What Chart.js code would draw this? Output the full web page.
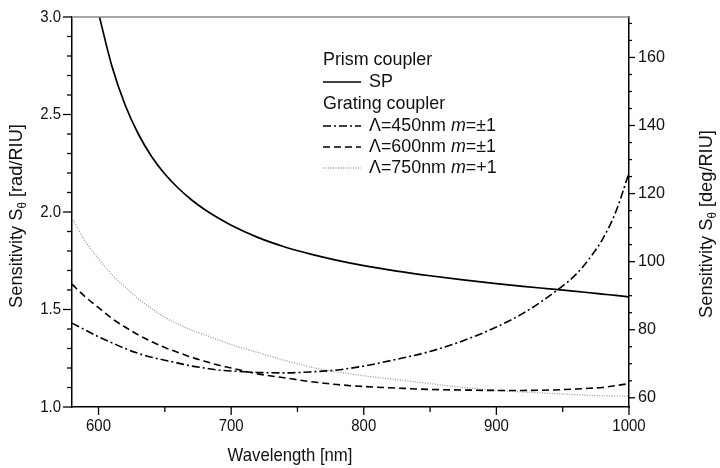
<!DOCTYPE html>
<html>
<head>
<meta charset="utf-8">
<script src="https://cdn.jsdelivr.net/npm/chart.js@4.4.0/dist/chart.umd.min.js"></script>
<style>
  html, body { margin: 0; padding: 0; background: #fff; }
</style>
</head>
<body>
<canvas id="myChart" width="720" height="468"></canvas>
<script>
// wavelength grid [nm]
const wavelength = [580, 590, 600, 610, 620, 630, 640, 650, 660, 670, 680, 690, 700, 720, 740, 760, 780, 800, 825, 850, 875, 900, 920, 940, 960, 970, 980, 990, 1000];

// sensitivity in rad/RIU
const prismSP = [null, null, 3.02, 2.75, 2.55, 2.40, 2.285, 2.195, 2.123, 2.063, 2.013, 1.970, 1.932, 1.87, 1.822, 1.784, 1.752, 1.725, 1.697, 1.673, 1.652, 1.633, 1.619, 1.606, 1.593, 1.586, 1.579, 1.572, 1.565];
const grating450 = [1.43, 1.395, 1.36, 1.33, 1.30, 1.275, 1.255, 1.24, 1.225, 1.21, 1.20, 1.19, 1.185, 1.177, 1.175, 1.18, 1.19, 1.21, 1.245, 1.285, 1.34, 1.41, 1.48, 1.57, 1.68, 1.76, 1.86, 2.00, 2.20];
const grating600 = [1.63, 1.565, 1.51, 1.455, 1.41, 1.37, 1.335, 1.305, 1.28, 1.255, 1.235, 1.215, 1.20, 1.17, 1.15, 1.13, 1.115, 1.105, 1.097, 1.09, 1.087, 1.085, 1.085, 1.087, 1.092, 1.096, 1.10, 1.11, 1.12];
const grating750 = [1.97, 1.85, 1.76, 1.68, 1.615, 1.555, 1.505, 1.46, 1.425, 1.395, 1.37, 1.345, 1.32, 1.28, 1.24, 1.205, 1.18, 1.16, 1.14, 1.12, 1.10, 1.085, 1.077, 1.07, 1.063, 1.06, 1.058, 1.056, 1.055];

// tick labels
const xTicks = [600, 700, 800, 900, 1000];
const radTicks = [1.0, 1.5, 2.0, 2.5, 3.0];
const degTicks = [60, 80, 100, 120, 140, 160];

const DEG = 180 / Math.PI;
const FONT = "'Liberation Sans', Arial, sans-serif";
const SQUEEZE = 0.88; // reference text is a bit condensed

function pts(ys) {
  return wavelength.map((w, i) => ({ x: w, y: ys[i] }));
}

function setTicks(list) {
  return function (scale) { scale.ticks = list.map(v => ({ value: v })); };
}

// draws text pieces one after another, squeezed along the writing direction
function drawRich(ctx, parts, x, y, align, k) {
  k = k || 1;
  let total = 0;
  parts.forEach(p => { ctx.font = p[1]; total += ctx.measureText(p[0]).width; });
  ctx.save();
  ctx.translate(x, y);
  ctx.scale(k, 1);
  let cx = align === 'center' ? -total / 2 : align === 'right' ? -total : 0;
  ctx.textAlign = 'left';
  parts.forEach(p => {
    ctx.font = p[1];
    ctx.fillText(p[0], cx, p[2] || 0);
    cx += ctx.measureText(p[0]).width;
  });
  ctx.restore();
}

const decor = {
  id: 'decor',
  afterDraw(chart) {
    const ctx = chart.ctx, a = chart.chartArea;
    const sx = chart.scales.x, sy = chart.scales.y, sy2 = chart.scales.y2;
    function seg(x1, y1, x2, y2) { ctx.beginPath(); ctx.moveTo(x1, y1); ctx.lineTo(x2, y2); ctx.stroke(); }
    ctx.save();
    // top frame line
    ctx.strokeStyle = '#8a8a8a';
    ctx.lineWidth = 1.5;
    seg(a.left, a.top, a.right, a.top);
    // tick marks
    ctx.strokeStyle = '#000';
    ctx.lineWidth = 1.3;
    for (let v = 600; v <= 1000; v += 50) {
      const px = sx.getPixelForValue(v);
      seg(px, a.bottom, px, a.bottom + (v % 100 === 0 ? 8 : 5));
    }
    for (let i = 10; i <= 30; i++) {
      const py = sy.getPixelForValue(i / 10);
      seg(a.left, py, a.left - (i % 5 === 0 ? 9 : 5), py);
    }
    for (let v = 60; v <= 170; v += 5) {
      const py = sy2.getPixelForValue(v);
      seg(a.right, py, a.right + (v % 20 === 0 ? 6 : 3), py);
    }
    // tick labels
    ctx.fillStyle = '#111';
    ctx.textBaseline = 'middle';
    const kf = '17px ' + FONT;
    xTicks.forEach(v => drawRich(ctx, [[String(v), kf]], sx.getPixelForValue(v), a.bottom + 19, 'center', SQUEEZE));
    radTicks.forEach(v => drawRich(ctx, [[v.toFixed(1), kf]], a.left - 11, sy.getPixelForValue(v), 'right', SQUEEZE));
    degTicks.forEach(v => drawRich(ctx, [[String(v), kf]], a.right + 9, sy2.getPixelForValue(v), 'left', 0.95));
    // axis titles
    const tf = '19px ' + FONT, sf = '12px ' + FONT;
    drawRich(ctx, [['Wavelength [nm]', tf]], 290, 456, 'center', SQUEEZE);
    ctx.save();
    ctx.translate(17, 216);
    ctx.rotate(-Math.PI / 2);
    drawRich(ctx, [['Sensitivity S', tf], ['\u03b8', sf, 6], [' [rad/RIU]', tf]], 0, 0, 'center', 0.96);
    ctx.restore();
    ctx.save();
    ctx.translate(707, 224);
    ctx.rotate(-Math.PI / 2);
    drawRich(ctx, [['Sensitivity S', tf], ['\u03b8', sf, 6], [' [deg/RIU]', tf]], 0, 0, 'center', 0.96);
    ctx.restore();
    // legend
    const lf = '19px ' + FONT, lfi = 'italic 19px ' + FONT;
    const lx = 323, tx = 369, lk = 0.94;
    drawRich(ctx, [['Prism coupler', lf]], lx, 60, 'left', lk);
    drawRich(ctx, [['SP', lf]], tx, 82, 'left', lk);
    drawRich(ctx, [['Grating coupler', lf]], lx, 104, 'left', lk);
    drawRich(ctx, [['\u039b=450nm ', lf], ['m', lfi], ['=\u00b11', lf]], tx, 126, 'left', lk);
    drawRich(ctx, [['\u039b=600nm ', lf], ['m', lfi], ['=\u00b11', lf]], tx, 147, 'left', lk);
    drawRich(ctx, [['\u039b=750nm ', lf], ['m', lfi], ['=+1', lf]], tx, 168, 'left', lk);
    const samples = [
      [82, [], '#000', 1.7],
      [126, [8, 3, 2, 3], '#000', 1.6],
      [147, [7, 4], '#000', 1.6],
      [168, [1, 1.5], '#9a9a9a', 1.3]
    ];
    samples.forEach(s => {
      ctx.strokeStyle = s[2];
      ctx.lineWidth = s[3];
      ctx.setLineDash(s[1]);
      seg(lx, s[0], lx + 38, s[0]);
    });
    ctx.restore();
  }
};

const CHART = document.getElementById('myChart');

let myChart = new Chart(CHART, {
  type: 'line',
  data: {
    datasets: [{
      label: 'SP',
      data: pts(prismSP),
      borderColor: '#000',
      borderWidth: 1.7,
      pointRadius: 0,
      cubicInterpolationMode: 'monotone',
      fill: false
    }, {
      label: '\u039b=450nm m=\u00b11',
      data: pts(grating450),
      borderColor: '#000',
      borderWidth: 1.6,
      borderDash: [8, 3, 2, 3],
      pointRadius: 0,
      cubicInterpolationMode: 'monotone',
      fill: false
    }, {
      label: '\u039b=600nm m=\u00b11',
      data: pts(grating600),
      borderColor: '#000',
      borderWidth: 1.6,
      borderDash: [7, 4],
      pointRadius: 0,
      cubicInterpolationMode: 'monotone',
      fill: false
    }, {
      label: '\u039b=750nm m=+1',
      data: pts(grating750),
      borderColor: '#9a9a9a',
      borderWidth: 1.3,
      borderDash: [1, 1.5],
      pointRadius: 0,
      cubicInterpolationMode: 'monotone',
      fill: false
    }]
  },
  options: {
    responsive: false,
    animation: false,
    layout: { padding: { top: 17, left: 0, right: 0, bottom: 0 } },
    plugins: { legend: { display: false }, tooltip: { enabled: false } },
    scales: {
      x: {
        type: 'linear',
        min: 580,
        max: 1000,
        afterBuildTicks: setTicks(xTicks),
        afterFit(scale) { scale.height = 61; },
        grid: { display: false },
        border: { display: true, color: '#000', width: 1.5 },
        ticks: { display: false }
      },
      y: {
        type: 'linear',
        position: 'left',
        min: 1.0,
        max: 3.0,
        afterBuildTicks: setTicks(radTicks),
        afterFit(scale) { scale.width = 72; },
        grid: { display: false },
        border: { display: true, color: '#000', width: 1.5 },
        ticks: { display: false }
      },
      y2: {
        type: 'linear',
        position: 'right',
        min: 1.0 * DEG,
        max: 3.0 * DEG,
        afterBuildTicks: setTicks(degTicks),
        afterFit(scale) { scale.width = 91; },
        grid: { display: false },
        border: { display: true, color: '#000', width: 1.5 },
        ticks: { display: false }
      }
    }
  },
  plugins: [decor]
});
</script>
</body>
</html>
